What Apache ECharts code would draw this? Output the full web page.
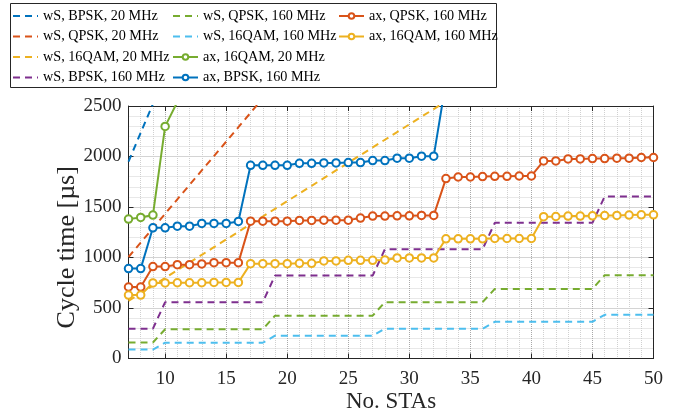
<!DOCTYPE html>
<html>
<head>
<meta charset="utf-8">
<script src="https://cdn.jsdelivr.net/npm/echarts@6/dist/echarts.min.js"></script>
<style>
html,body{margin:0;padding:0;background:#fff;}
#chart{width:688px;height:417px;}
</style>
</head>
<body>
<div id="chart"></div>
<script>
// ---- data ----
var stas = [7,8,9,10,11,12,13,14,15,16,17,18,19,20,21,22,23,24,25,26,27,28,29,30,31,32,33,34,35,36,37,38,39,40,41,42,43,44,45,46,47,48,49,50];
var xTickLabels = ['10','15','20','25','30','35','40','45','50'];
var yTicks = [0, 500, 1000, 1500, 2000, 2500];

var wsBpsk20 = [1950, 2235, 2520];
var wsQpsk20 = [1005, 1148, 1290, 1433, 1576, 1719, 1862, 2004, 2147, 2290, 2433, 2576];
var ws16qam20 = [570, 646, 722, 798, 874, 950, 1026, 1102, 1178, 1254, 1330, 1406, 1482, 1558, 1634, 1710, 1786, 1862, 1938, 2014, 2090, 2166, 2242, 2318, 2394, 2470, 2546];
var wsBpsk160 = [295,295,295, 558,558,558,558,558,558,558,558,558, 821,821,821,821,821,821,821,821,821, 1082,1082,1082,1082,1082,1082,1082,1082,1082, 1343,1343,1343,1343,1343,1343,1343,1343,1343, 1604,1604,1604,1604,1604];
var wsQpsk160 = [158,158,158, 290,290,290,290,290,290,290,290,290, 424,424,424,424,424,424,424,424,424, 558,558,558,558,558,558,558,558,558, 689,689,689,689,689,689,689,689,689, 824,824,824,824,824];
var ws16qam160 = [88,88,88, 156,156,156,156,156,156,156,156,156, 226,226,226,226,226,226,226,226,226, 295,295,295,295,295,295,295,295,295, 363,363,363,363,363,363,363,363,363, 433,433,433,433,433];
var ax16qam20 = [1380, 1397, 1420, 2298, 2540];
var axBpsk160 = [890, 890, 1294, 1294, 1310, 1310, 1337, 1337, 1337, 1357, 1913, 1913, 1913, 1913, 1933, 1933, 1936, 1936, 1940, 1940, 1960, 1960, 1983, 1983, 2003, 2003, 2740];
var axQpsk160 = [708, 708, 910, 910, 929, 929, 936, 949, 949, 949, 1360, 1360, 1360, 1360, 1367, 1367, 1370, 1370, 1370, 1390, 1410, 1410, 1413, 1413, 1417, 1417, 1781, 1797, 1797, 1801, 1804, 1804, 1807, 1807, 1956, 1956, 1976, 1976, 1980, 1980, 1983, 1983, 1990, 1990];
var ax16qam160 = [628, 628, 748, 748, 750, 750, 750, 753, 753, 753, 939, 939, 939, 939, 942, 942, 966, 966, 972, 972, 972, 976, 996, 996, 996, 996, 1185, 1185, 1185, 1185, 1188, 1188, 1188, 1188, 1404, 1406, 1410, 1410, 1413, 1415, 1417, 1420, 1423, 1423];

// ---- styling ----
var C = {blue:'#0072BD', orange:'#D95319', yellow:'#EDB120', purple:'#7E2F8E', green:'#77AC30', cyan:'#4DBEEE'};
var FONT = '"Liberation Serif", "Times New Roman", serif';
var AX = '#262626';

function dashed(name, data, color) {
  return {
    name: name, type: 'line', data: data, symbol: 'none', showSymbol: false,
    lineStyle: {color: color, width: 2, type: [7, 5]},
    itemStyle: {color: color},
    animation: false, z: 2
  };
}
function marked(name, data, color) {
  return {
    name: name, type: 'line', data: data, symbol: 'emptyCircle', symbolSize: 7.5,
    showAllSymbol: true,
    lineStyle: {color: color, width: 2},
    itemStyle: {color: color, borderColor: color, borderWidth: 1.6},
    animation: false, z: 3
  };
}
function isMajor(idx, val) { return xTickLabels.indexOf(String(val)) >= 0; }
function dashItem(n) { return {name: n, itemStyle: {opacity: 0}}; }

var legendCommon = {
  orient: 'vertical', padding: 0, itemGap: 0.5, itemWidth: 25, itemHeight: 7,
  textStyle: {fontFamily: FONT, fontSize: 14.2, color: '#000', lineHeight: 20},
  z: 5, selectedMode: false
};

var option = {
  backgroundColor: '#fff',
  animation: false,
  graphic: [{
    type: 'rect', z: 1, shape: {x: 10.5, y: 3.5, width: 486, height: 84},
    style: {fill: '#fff', stroke: AX, lineWidth: 1}
  }],
  legend: [
    Object.assign({left: 12, top: 6, data: [dashItem('wS, BPSK, 20 MHz'), dashItem('wS, QPSK, 20 MHz'), dashItem('wS, 16QAM, 20 MHz'), dashItem('wS, BPSK, 160 MHz')]}, legendCommon),
    Object.assign({left: 172, top: 6, data: [dashItem('wS, QPSK, 160 MHz'), dashItem('wS, 16QAM, 160 MHz'), 'ax, 16QAM, 20 MHz', 'ax, BPSK, 160 MHz']}, legendCommon),
    Object.assign({left: 338, top: 6, data: ['ax, QPSK, 160 MHz', 'ax, 16QAM, 160 MHz']}, legendCommon)
  ],
  grid: {left: 128.5, right: 34.5, top: 106, bottom: 58.5, containLabel: false, outerBoundsMode: 'none'},
  xAxis: [{
    type: 'category', data: stas, boundaryGap: false, position: 'bottom',
    axisLine: {show: true, onZero: false, lineStyle: {color: AX, width: 1}},
    axisTick: {show: true, inside: true, length: 5, interval: isMajor, lineStyle: {color: AX}},
    axisLabel: {interval: isMajor, margin: 11, fontFamily: FONT, fontSize: 19, color: '#262626'},
    splitLine: {show: true, interval: 0, lineStyle: {color: '#d0d0d0', type: 'dotted', width: 1}},
    name: 'No. STAs', nameLocation: 'middle', nameGap: 32, nameMoveOverlap: false,
    nameTextStyle: {fontFamily: FONT, fontSize: 23, color: '#262626'}
  }, {
    type: 'category', data: stas, boundaryGap: false, position: 'top',
    axisLine: {show: true, onZero: false, lineStyle: {color: AX, width: 1}},
    axisTick: {show: true, inside: true, length: 5, interval: isMajor, lineStyle: {color: AX}},
    axisLabel: {show: false},
    splitLine: {show: true, interval: isMajor, lineStyle: {color: '#a8a8a8', type: 'dotted', width: 1}}
  }],
  yAxis: [{
    type: 'value', min: yTicks[0], max: yTicks[yTicks.length - 1], interval: 500, position: 'left',
    axisLine: {show: true, onZero: false, lineStyle: {color: AX, width: 1}},
    axisTick: {show: true, inside: true, length: 5, lineStyle: {color: AX}},
    axisLabel: {margin: 7, fontFamily: FONT, fontSize: 19, color: '#262626',
      formatter: function (v) { return String(v); }},
    splitLine: {show: true, lineStyle: {color: '#a8a8a8', type: 'dotted', width: 1}},
    minorTick: {show: false, splitNumber: 5},
    minorSplitLine: {show: true, lineStyle: {color: '#d0d0d0', type: 'dotted', width: 1}},
    name: 'Cycle time [µs]', nameLocation: 'middle', nameGap: 48, nameRotate: 90, nameMoveOverlap: false,
    nameTextStyle: {fontFamily: FONT, fontSize: 26, color: '#262626', padding: [0, 30, 0, 0]}
  }, {
    type: 'value', min: yTicks[0], max: yTicks[yTicks.length - 1], interval: 500, position: 'right',
    axisLine: {show: true, onZero: false, lineStyle: {color: AX, width: 1}},
    axisTick: {show: true, inside: true, length: 5, lineStyle: {color: AX}},
    axisLabel: {show: false},
    splitLine: {show: false}
  }],
  series: [
    dashed('wS, BPSK, 20 MHz', wsBpsk20, C.blue),
    dashed('wS, QPSK, 20 MHz', wsQpsk20, C.orange),
    dashed('wS, 16QAM, 20 MHz', ws16qam20, C.yellow),
    dashed('wS, BPSK, 160 MHz', wsBpsk160, C.purple),
    dashed('wS, QPSK, 160 MHz', wsQpsk160, C.green),
    dashed('wS, 16QAM, 160 MHz', ws16qam160, C.cyan),
    marked('ax, 16QAM, 20 MHz', ax16qam20, C.green),
    marked('ax, BPSK, 160 MHz', axBpsk160, C.blue),
    marked('ax, QPSK, 160 MHz', axQpsk160, C.orange),
    marked('ax, 16QAM, 160 MHz', ax16qam160, C.yellow)
  ]
};

var chart = echarts.init(document.getElementById('chart'), null, {renderer: 'canvas'});
chart.setOption(option);
</script>
</body>
</html>
